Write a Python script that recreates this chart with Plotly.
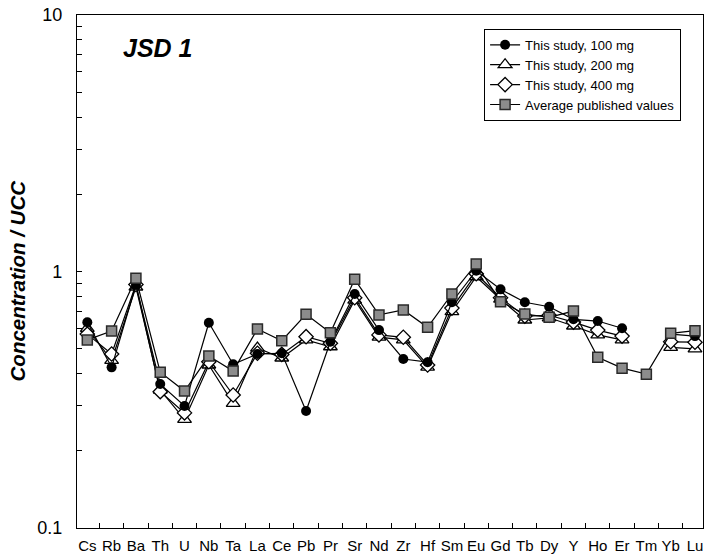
import plotly.graph_objects as go

# Trace elements, normalised to upper continental crust (UCC)
elements = ["Cs", "Rb", "Ba", "Th", "U", "Nb", "Ta", "La", "Ce", "Pb", "Pr", "Sr", "Nd",
            "Zr", "Hf", "Sm", "Eu", "Gd", "Tb", "Dy", "Y", "Ho", "Er", "Tm", "Yb", "Lu"]

study_100mg = [0.634, 0.423, 0.886, 0.364, 0.299, 0.631, 0.435, 0.477, 0.480, 0.286, 0.532, 0.817, 0.591,
               0.456, 0.443, 0.759, 1.007, 0.852, 0.759, 0.729, 0.651, 0.641, 0.601, None, 0.570, 0.560]
study_200mg = [0.600, 0.450, 0.870, 0.345, 0.265, 0.432, 0.306, 0.503, 0.460, 0.541, 0.509, 0.774, 0.555,
               0.541, 0.424, 0.697, 0.954, 0.780, 0.647, 0.660, 0.613, 0.566, 0.541, None, 0.506, 0.499]
study_400mg = [0.570, 0.477, 0.890, 0.340, 0.281, 0.445, 0.330, 0.480, 0.475, 0.557, 0.525, 0.790, 0.566,
               0.554, 0.432, 0.720, 0.980, 0.790, 0.670, 0.675, 0.635, 0.591, 0.560, None, 0.532, 0.530]
published_avg = [0.541, 0.586, 0.941, 0.405, 0.342, 0.468, 0.409, 0.597, 0.537, 0.681, 0.577, 0.932, 0.677,
                 0.708, 0.606, 0.817, 1.070, 0.763, 0.683, 0.663, 0.701, 0.463, 0.420, 0.398, 0.574, 0.588]

y_tick_vals = [0.1, 0.2, 0.3, 0.4, 0.5, 0.6, 0.7, 0.8, 0.9,
               1, 2, 3, 4, 5, 6, 7, 8, 9, 10]
y_tick_text = ["0.1"] + [""] * 8 + ["1"] + [""] * 8 + ["10"]

FONT = "Liberation Sans, Arial, sans-serif"
LINE = dict(color="black", width=1.2)

fig = go.Figure()

# drawing order: triangles, diamonds, circles, squares on top
fig.add_trace(go.Scatter(
    x=elements, y=study_200mg, name="This study, 200 mg", mode="lines+markers",
    line=LINE, connectgaps=False, legendrank=2,
    marker=dict(symbol="triangle-up", size=12, color="white", line=dict(color="black", width=1.3)),
))
fig.add_trace(go.Scatter(
    x=elements, y=study_400mg, name="This study, 400 mg", mode="lines+markers",
    line=LINE, connectgaps=False, legendrank=3,
    marker=dict(symbol="diamond", size=11, color="white", line=dict(color="black", width=1.3)),
))
fig.add_trace(go.Scatter(
    x=elements, y=study_100mg, name="This study, 100 mg", mode="lines+markers",
    line=LINE, connectgaps=False, legendrank=1,
    marker=dict(symbol="circle", size=10, color="black", line=dict(color="black", width=0)),
))
fig.add_trace(go.Scatter(
    x=elements, y=published_avg, name="Average published values", mode="lines+markers",
    line=LINE, connectgaps=False, legendrank=4,
    marker=dict(symbol="square", size=10, color="#8c8c8c", line=dict(color="#2a2a2a", width=1.5)),
))

fig.add_annotation(
    text="<b><i>JSD 1</i></b>", xref="paper", yref="paper", x=0.071, y=0.936,
    xanchor="left", yanchor="middle", showarrow=False,
    font=dict(family=FONT, size=25, color="black"),
)

# rotated y-axis label
fig.add_annotation(
    text="<b><i>Concentration / UCC</i></b>", xref="paper", yref="paper",
    x=-0.0955, y=0.483, xanchor="center", yanchor="middle", textangle=-90,
    showarrow=False, font=dict(family=FONT, size=20.5, color="black"),
)

fig.update_layout(
    width=709, height=560,
    margin=dict(l=77, r=6, t=15, b=32),
    paper_bgcolor="white", plot_bgcolor="white",
    font=dict(family=FONT, color="black"),
    showlegend=True,
    legend=dict(
        x=0.965, y=0.973, xanchor="right", yanchor="top",
        bgcolor="white", bordercolor="black", borderwidth=1,
        font=dict(family=FONT, size=13, color="black"),
        tracegroupgap=0, itemwidth=30,
    ),
    xaxis=dict(
        type="category", range=[-0.424, 25.33],
        showline=True, linecolor="black", linewidth=1.2, mirror=True,
        ticks="inside", tickson="boundaries", ticklen=5, tickcolor="black", tickwidth=1,
        showgrid=False, zeroline=False, tickangle=0, ticklabelstandoff=4,
        tickfont=dict(family=FONT, size=15, color="black"),
    ),
    yaxis=dict(
        type="log", range=[-1, 1],
        showline=True, linecolor="black", linewidth=1.2, mirror=True,
        tickmode="array", tickvals=y_tick_vals, ticktext=y_tick_text,
        ticks="inside", ticklen=5, tickcolor="black", tickwidth=1,
        showgrid=False, zeroline=False, ticklabelstandoff=10,
        tickfont=dict(family=FONT, size=18, color="black"),
    ),
)

fig.write_html("out.html")
